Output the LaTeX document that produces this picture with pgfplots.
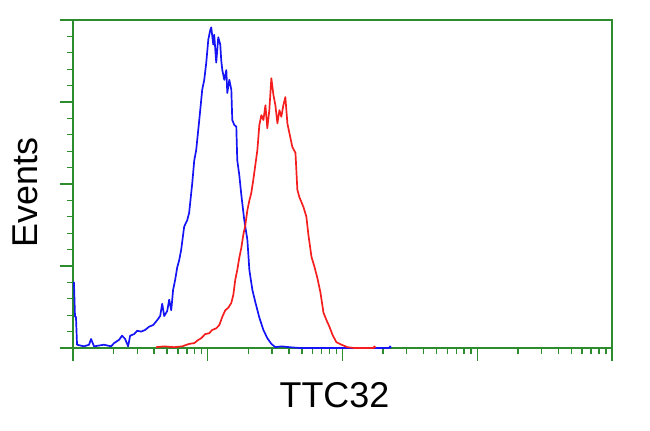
\documentclass[border=0pt]{standalone}
\usepackage{fontspec}
\setmainfont{Liberation Sans}
\usepackage{pgfplots}
\pgfplotsset{compat=1.18}
\definecolor{frame}{RGB}{45,140,45}
\definecolor{cblue}{RGB}{20,20,245}
\definecolor{cred}{RGB}{245,30,30}
\begin{document}
\begin{tikzpicture}
\useasboundingbox (-73bp,-83bp) rectangle (577bp,348bp);
\begin{axis}[
  at={(0,0)}, anchor=south west,
  scale only axis, width=539bp, height=328bp,
  xmin=0, xmax=4, ymin=0, ymax=4,
  xtick={0,1,2,3,4},
  minor xtick={0.301,0.477,0.602,0.699,0.778,0.845,0.903,0.954,
               1.301,1.477,1.602,1.699,1.778,1.845,1.903,1.954,
               2.301,2.477,2.602,2.699,2.778,2.845,2.903,2.954,
               3.301,3.477,3.602,3.699,3.778,3.845,3.903,3.954},
  ytick={0,1,2,3,4},
  minor y tick num=4,
  xticklabels={}, yticklabels={},
  tick align=outside, tick pos=left,
  major tick length=13bp, minor tick length=6bp,
  axis line style={draw=frame, line width=1.9pt},
  every tick/.style={draw=frame, line width=1.4pt},
  clip=false,
  xlabel={TTC32},
  label style={font=\fontsize{36}{40}\selectfont},
  xlabel style={at={(rel axis cs:0.485,0)}, anchor=base, yshift=-59bp},
]
\addplot[cblue, line width=1.7pt, line join=round] coordinates {
(0.000,0.80)(0.007,0.80)(0.015,0.38)(0.022,0.38)(0.030,0.04)(0.082,0.02)
(0.119,0.04)(0.134,0.11)(0.156,0.02)(0.230,0.04)(0.283,0.02)(0.305,0.06)
(0.342,0.10)(0.364,0.15)(0.387,0.11)(0.409,0.02)(0.424,0.15)(0.454,0.17)
(0.476,0.21)(0.506,0.20)(0.535,0.22)(0.565,0.26)(0.595,0.28)(0.625,0.34)
(0.647,0.39)(0.662,0.54)(0.677,0.39)(0.699,0.45)(0.714,0.59)(0.729,0.46)
(0.743,0.71)(0.758,0.83)(0.773,0.98)(0.788,1.07)(0.803,1.20)(0.825,1.48)
(0.848,1.56)(0.862,1.65)(0.885,2.01)(0.900,2.29)(0.914,2.41)(0.937,2.78)
(0.959,3.15)(0.974,3.27)(0.989,3.48)(1.004,3.76)(1.019,3.88)(1.026,3.91)
(1.041,3.70)(1.048,3.82)(1.063,3.48)(1.078,3.79)(1.093,3.70)(1.100,3.51)
(1.108,3.39)(1.123,3.27)(1.138,3.39)(1.145,3.11)(1.160,3.27)(1.175,3.15)
(1.182,2.78)(1.197,2.72)(1.212,2.70)(1.219,2.29)(1.234,2.11)(1.249,1.87)
(1.271,1.56)(1.294,1.32)(1.309,0.95)(1.331,0.71)(1.353,0.56)(1.383,0.37)
(1.413,0.22)(1.442,0.12)(1.472,0.05)(1.502,0.01)(1.546,0.02)(1.606,0.01)
(1.680,0.00)(2.346,0.00)(2.353,0.02)(2.360,0.00)
};
\addplot[cred, line width=1.7pt, line join=round] coordinates {
(0.617,0.01)(0.677,0.02)(0.751,0.01)(0.810,0.02)(0.862,0.05)(0.900,0.06)
(0.922,0.09)(0.952,0.12)(0.981,0.17)(1.011,0.18)(1.033,0.22)(1.063,0.24)
(1.086,0.28)(1.108,0.38)(1.130,0.46)(1.152,0.49)(1.175,0.55)(1.190,0.65)
(1.204,0.83)(1.219,0.95)(1.234,1.10)(1.249,1.22)(1.264,1.38)(1.279,1.50)
(1.294,1.68)(1.309,1.80)(1.323,1.89)(1.338,2.05)(1.353,2.23)(1.368,2.41)
(1.383,2.72)(1.398,2.84)(1.413,2.78)(1.428,2.96)(1.442,2.68)(1.457,2.90)
(1.472,3.29)(1.487,3.09)(1.502,2.96)(1.517,2.74)(1.532,2.90)(1.546,2.82)
(1.561,2.96)(1.576,3.06)(1.591,2.74)(1.606,2.62)(1.628,2.45)(1.651,2.38)
(1.665,1.93)(1.680,1.84)(1.710,1.72)(1.732,1.60)(1.747,1.38)(1.770,1.11)
(1.792,0.99)(1.814,0.85)(1.836,0.68)(1.859,0.43)(1.881,0.34)(1.903,0.26)
(1.926,0.16)(1.955,0.07)(1.993,0.04)(2.037,0.01)(2.089,0.00)(2.230,0.00)
(2.237,0.02)(2.244,0.00)
};
\node[rotate=90, anchor=base, font=\fontsize{36}{40}\selectfont]
  at ([xshift=-35bp]rel axis cs:0,0.473) {Events};
\end{axis}
\end{tikzpicture}
\end{document}
